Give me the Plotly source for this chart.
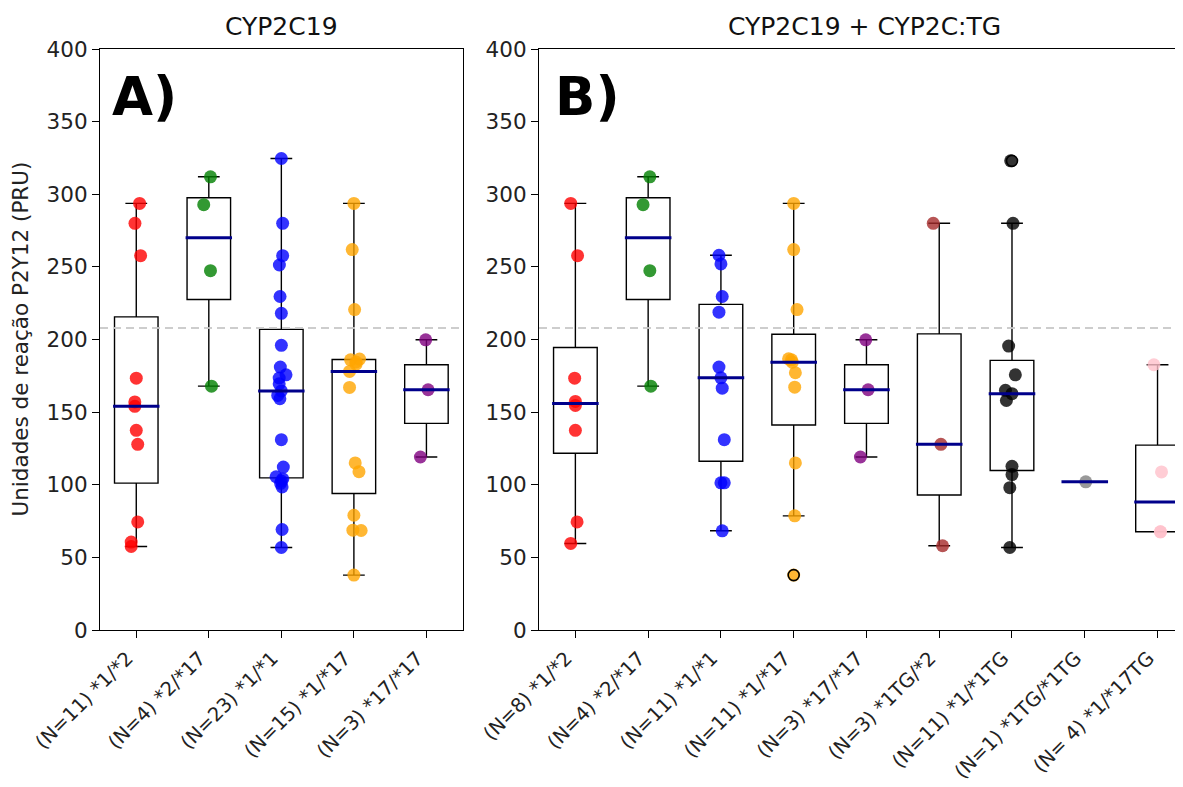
import numpy as np
import plotly.graph_objects as go

# ---------------- data ----------------
labels_A = ["(N=11) *1/*2", "(N=4) *2/*17", "(N=23) *1/*1", "(N=15) *1/*17", "(N=3) *17/*17"]
labels_B = ["(N=8) *1/*2", "(N=4) *2/*17", "(N=11) *1/*1", "(N=11) *1/*17", "(N=3) *17/*17",
            "(N=3) *1TG/*2", "(N=11) *1/*1TG", "(N=1) *1TG/*1TG", "(N= 4) *1/*17TG"]

A_12 = [293.7, 280, 257.7, 173.4, 157, 154, 137.5, 127.8, 74.4, 60.5, 57.5]
A_217 = [312, 292.8, 247.4, 167.9]
A_11 = [324.6, 280, 257.7, 251.3, 229.6, 218, 196, 181, 175.7, 173.5, 169.5, 164.6,
        161.5, 159.2, 131, 112.2, 105.5, 104, 102.5, 101, 98.5, 69.2, 56.8]
A_117 = [293.7, 261.9, 220.6, 186.5, 186, 184.5, 183, 178, 167, 115, 109, 79, 68.7, 68.5, 37.8]
A_1717 = [199.8, 165.4, 119.1]

B_12 = [293.7, 257.7, 173.4, 157.4, 154.6, 137.5, 74.4, 59.6]
B_217 = [312, 292.8, 247.4, 167.9]
B_11 = [258, 252, 229.6, 218.8, 181, 173.6, 166.5, 131, 101.3, 101.3, 68.3]
B_117 = [293.7, 261.9, 220.6, 186.7, 186, 184.4, 177.1, 167.2, 115, 78.6, 37.8]
B_1717 = [199.8, 165.4, 119.1]
B_1TG2 = [280, 127.8, 58]
B_11TG = [323, 280, 195.5, 175.7, 165, 162.7, 158, 112.7, 107, 98, 56.8]
B_1TG1TG = [102]
B_117TG = [182.6, 108.8, 67.6, 67.6]

# horizontal jitter of each point (category units)
J_A_12 = [0.046, -0.018, 0.06, 0, -0.02, -0.02, 0, 0.02, 0.02, -0.07, -0.07]
J_A_217 = [0.023, -0.07, 0.023, 0.037]
J_A_11 = [0, 0.018, 0.018, -0.027, -0.018, 0, 0, -0.014, 0.064, -0.03, -0.03, 0,
          -0.05, -0.02, 0, 0.027, -0.073, 0.02, 0, -0.01, 0.01, 0.01, 0]
J_A_117 = [0, -0.023, 0.01, 0.078, -0.046, 0.03, 0.03, -0.06, -0.06, 0.018, 0.07, 0, -0.014, 0.1, 0]
J_A_1717 = [-0.01, 0.023, -0.083]

J_B_12 = [-0.064, 0.03, -0.01, 0, 0, 0, 0.023, -0.064]
J_B_217 = [0.023, -0.07, 0.023, 0.037]
J_B_11 = [-0.027, 0, 0.018, -0.027, -0.027, 0, 0.018, 0.046, 0, 0.046, 0.018]
J_B_117 = [0, 0, 0.046, -0.07, -0.03, -0.02, 0.023, 0.014, 0.023, 0.014, 0]
J_B_1717 = [-0.01, 0.023, -0.083]
J_B_1TG2 = [-0.082, 0.023, 0.046]
J_B_11TG = [-0.018, 0.014, -0.046, 0.046, -0.09, 0, -0.077, 0, 0, -0.03, -0.03]
J_B_1TG1TG = [0.014]
J_B_117TG = [-0.05, 0.055, 0.04, 0.04]

THRESHOLD = 208

colors_A = ["rgba(255,0,0,0.8)", "rgba(0,128,0,0.8)", "rgba(0,0,255,0.8)",
            "rgba(255,165,0,0.8)", "rgba(128,0,128,0.8)"]
colors_B = ["rgba(255,0,0,0.8)", "rgba(0,128,0,0.8)", "rgba(0,0,255,0.8)",
            "rgba(255,165,0,0.8)", "rgba(128,0,128,0.8)", "rgba(165,42,42,0.8)",
            "rgba(0,0,0,0.8)", "rgba(128,128,128,0.8)", "rgba(255,192,203,0.8)"]

panel_A = [A_12, A_217, A_11, A_117, A_1717]
panel_B = [B_12, B_217, B_11, B_117, B_1717, B_1TG2, B_11TG, B_1TG1TG, B_117TG]
jit_A = [J_A_12, J_A_217, J_A_11, J_A_117, J_A_1717]
jit_B = [J_B_12, J_B_217, J_B_11, J_B_117, J_B_1717, J_B_1TG2, J_B_11TG, J_B_1TG1TG, J_B_117TG]

# page body has an 8px margin: figure is shifted by OFF in the screenshot
OFF = 8
W, H = 1183 - OFF, 787 - OFF
TOP, BOT = 49 - OFF, 630 - OFF          # plot area in figure pixels
fig = go.Figure()


def stats(vals):
    v = np.array(vals, dtype=float)
    q1, med, q3 = np.percentile(v, [25, 50, 75])
    iqr = q3 - q1
    inside = v[(v >= q1 - 1.5 * iqr) & (v <= q3 + 1.5 * iqr)]
    lo, hi = inside.min(), inside.max()
    fl = v[(v < lo) | (v > hi)]
    return q1, med, q3, lo, hi, fl


def add_panel(groups, jits, colors, xa, ya):
    for i, (vals, jit, col) in enumerate(zip(groups, jits, colors)):
        pos = i + 1
        fig.add_trace(go.Scatter(
            x=[pos + j for j in jit], y=vals, mode="markers",
            marker=dict(size=13, color=col, line=dict(width=0)),
            xaxis=xa, yaxis=ya, showlegend=False, hoverinfo="y"))
    for i, vals in enumerate(groups):
        pos = i + 1
        q1, med, q3, lo, hi, fl = stats(vals)
        fig.add_trace(go.Box(
            x=[pos], q1=[q1], median=[med], q3=[q3], lowerfence=[lo], upperfence=[hi],
            width=0.6, whiskerwidth=0.5, boxpoints=False,
            line=dict(color="black", width=1.4), fillcolor="rgba(0,0,0,0)",
            xaxis=xa, yaxis=ya, showlegend=False, hoverinfo="skip"))
        fig.add_trace(go.Scatter(
            x=[pos - 0.32, pos + 0.32], y=[med, med], mode="lines",
            line=dict(color="#00008b", width=3),
            xaxis=xa, yaxis=ya, showlegend=False, hoverinfo="skip"))
        if len(fl):
            fig.add_trace(go.Scatter(
                x=[pos] * len(fl), y=fl, mode="markers",
                marker=dict(symbol="circle-open", size=11, color="black", line=dict(width=1.6)),
                xaxis=xa, yaxis=ya, showlegend=False, hoverinfo="skip"))


add_panel(panel_A, jit_A, colors_A, "x", "y")
add_panel(panel_B, jit_B, colors_B, "x2", "y2")

font_family = "DejaVu Sans"
axis_common = dict(showline=True, linecolor="black", linewidth=1.2, ticks="outside",
                   ticklen=7, tickwidth=1.2, tickcolor="black", showgrid=False,
                   zeroline=False)
xfont = dict(family=font_family, size=19.5, color="#222")
yfont = dict(family=font_family, size=21.5, color="#222")
xlab = dict(tickangle=-45, ticklabelstandoff=1, ticklabelshift=-9)


def fx(px):
    return (px - OFF) / W


def fy(px):
    return 1 - (px - OFF - TOP) / (BOT - TOP)


fig.update_layout(
    width=W, height=H,
    margin=dict(l=0, r=0, t=TOP, b=H - BOT, autoexpand=False),
    paper_bgcolor="white", plot_bgcolor="white",
    xaxis=dict(domain=[fx(100), fx(462.7)], range=[0.5, 5.5], tickvals=list(range(1, 6)),
               ticktext=labels_A, mirror=True, anchor="y",
               tickfont=xfont, **xlab, **axis_common),
    yaxis=dict(domain=[0, 1], range=[0, 400], dtick=50, mirror=True, anchor="x",
               tickfont=yfont, **axis_common),
    xaxis2=dict(domain=[fx(539), 1], range=[0.5, 9.35], tickvals=list(range(1, 10)),
                ticktext=labels_B, mirror=True, anchor="y2",
                tickfont=xfont, **xlab, **axis_common),
    yaxis2=dict(domain=[0, 1], range=[0, 400], dtick=50, mirror=False, anchor="x2",
                tickfont=yfont, **axis_common),
    shapes=[
        dict(type="line", xref="x domain", yref="y", x0=0, x1=1, y0=THRESHOLD, y1=THRESHOLD,
             line=dict(color="rgba(200,200,200,0.9)", width=2, dash="8px,5px"), layer="above"),
        dict(type="line", xref="x2 domain", yref="y2", x0=0, x1=1, y0=THRESHOLD, y1=THRESHOLD,
             line=dict(color="rgba(200,200,200,0.9)", width=2, dash="8px,5px"), layer="above"),
    ],
)

ann = [
    dict(text="CYP2C19", x=fx(281.4), y=fy(27), xref="paper", yref="paper",
         xanchor="center", yanchor="middle", showarrow=False,
         font=dict(family=font_family, size=25, color="#111")),
    dict(text="CYP2C19 + CYP2C:TG", x=fx(864), y=fy(27), xref="paper", yref="paper",
         xanchor="center", yanchor="middle", showarrow=False,
         font=dict(family=font_family, size=25, color="#111")),
    dict(text="<b>A)</b>", x=fx(110), y=fy(96), xref="paper", yref="paper",
         xanchor="left", yanchor="middle", showarrow=False,
         font=dict(family=font_family, size=53, color="black")),
    dict(text="<b>B)</b>", x=fx(553), y=fy(96), xref="paper", yref="paper",
         xanchor="left", yanchor="middle", showarrow=False,
         font=dict(family=font_family, size=53, color="black")),
    dict(text="Unidades de reação P2Y12 (PRU)", x=fx(20), y=fy(339.5), xref="paper",
         yref="paper", xanchor="center", yanchor="middle", textangle=-90, showarrow=False,
         font=dict(family=font_family, size=21.5, color="#222")),
]
fig.update_layout(annotations=ann)

fig.write_html("out.html")
